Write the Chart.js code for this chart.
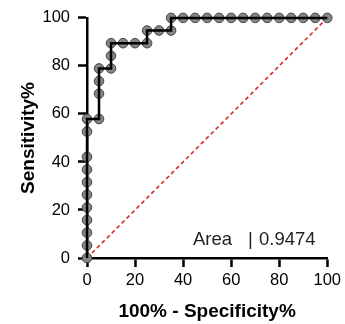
<!DOCTYPE html>
<html>
<head>
<meta charset="utf-8">
<script src="https://cdn.jsdelivr.net/npm/chart.js@4"></script>
<style>
html,body{margin:0;padding:0;background:#fff;}
canvas{display:block;}
</style>
</head>
<body>
<canvas id="c" width="345" height="324"></canvas>
<script>
// ROC curve points (100% - Specificity%, Sensitivity%)
const fpr = [0,0,0,0,0,0,0,0,0,0,0,5,5,5,5,10,10,10,15,20,25,25,30,35,35,40,45,50,55,60,65,70,75,80,85,90,95,100];
const sensitivity = [0,5.26,10.53,15.79,21.05,26.32,31.58,36.84,42.11,52.63,57.89,57.89,68.42,73.68,78.95,78.95,84.21,89.47,89.47,89.47,89.47,94.74,94.74,94.74,100,100,100,100,100,100,100,100,100,100,100,100,100,100];
const diagX = [0,100];
const diagY = [0,100];
const tickValues = [0,20,40,60,80,100];
const areaLabel = "Area";
const areaValue = "0.9474";
const xTitle = "100% - Specificity%";
const yTitle = "Sensitivity%";

const FONT = "Arial, 'Liberation Sans', sans-serif";
const rocPts = fpr.map((x,i)=>({x:x,y:sensitivity[i]}));
const diagPts = diagX.map((x,i)=>({x:x,y:diagY[i]}));

const areaPlugin = {
  id:'areaText',
  afterDraw(chart){
    const ctx = chart.ctx;
    ctx.save();
    ctx.fillStyle = '#222';
    ctx.font = '18.5px ' + FONT;
    ctx.textBaseline = 'alphabetic';
    ctx.textAlign = 'left';
    ctx.fillText(areaLabel, 193, 245);
    ctx.fillText('|', 248, 245);
    ctx.fillText(areaValue, 259, 245);
    ctx.restore();
  }
};

new Chart(document.getElementById('c'), {
  type:'scatter',
  data:{
    datasets:[
      {
        data: rocPts, showLine:true, borderColor:'#000', borderWidth:2.5,
        pointRadius:0, fill:false, order:0, clip:false
      },
      {
        data: rocPts, showLine:false,
        pointRadius:4.8, pointBackgroundColor:'#858585', pointBorderColor:'#444', pointBorderWidth:1,
        order:1, clip:false
      },
      {
        data: diagPts, showLine:true, borderColor:'#d42a2a', borderWidth:1.6, borderDash:[4,3],
        pointRadius:0, fill:false, order:2, clip:false
      }
    ]
  },
  options:{
    responsive:false,
    animation:false,
    devicePixelRatio:1,
    layout:{padding:{top:15,right:15,left:0,bottom:0}},
    plugins:{legend:{display:false},tooltip:{enabled:false}},
    scales:{
      x:{
        type:'linear', min:0, max:100,
        afterBuildTicks(s){ s.ticks = tickValues.map(v=>({value:v})); },
        afterFit(s){ s.height = 66; },
        border:{display:true,color:'#000',width:2.5},
        grid:{drawOnChartArea:false,drawTicks:true,tickLength:9,tickColor:'#000',tickWidth:2.5},
        ticks:{color:'#000',font:{family:FONT,size:16.5},padding:4,maxRotation:0},
        title:{display:true,text:xTitle,color:'#000',font:{family:FONT,size:19,weight:'bold'},padding:{top:0,bottom:1}}
      },
      y:{
        type:'linear', min:0, max:100,
        afterBuildTicks(s){ s.ticks = tickValues.map(v=>({value:v})); },
        afterFit(s){ s.width = 87; },
        border:{display:true,color:'#000',width:2.5},
        grid:{drawOnChartArea:false,drawTicks:true,tickLength:9,tickColor:'#000',tickWidth:2.5},
        ticks:{color:'#000',font:{family:FONT,size:16.5},padding:8},
        title:{display:true,text:yTitle,color:'#000',font:{family:FONT,size:19,weight:'bold'},padding:{top:17,bottom:0}}
      }
    }
  },
  plugins:[areaPlugin]
});
</script>
</body>
</html>
